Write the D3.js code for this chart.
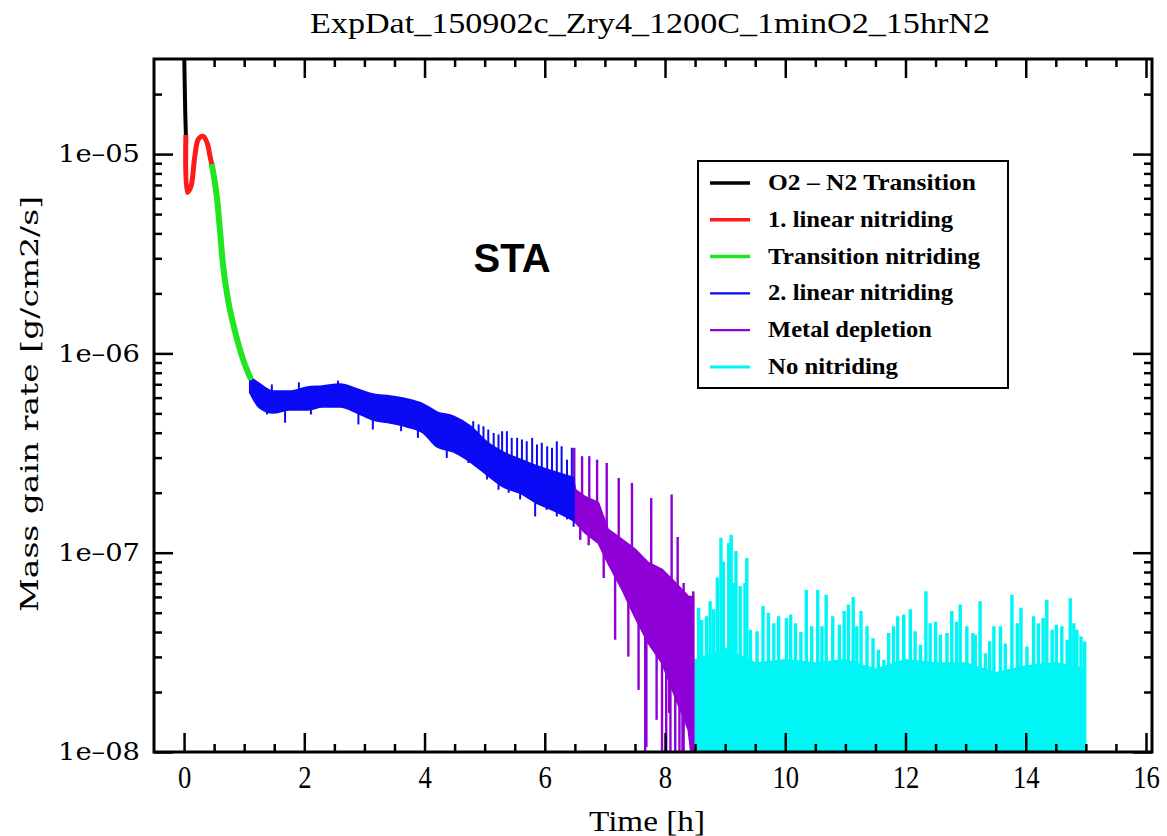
<!DOCTYPE html>
<html><head><meta charset="utf-8">
<script src="https://cdn.jsdelivr.net/npm/d3@7"></script>
<style>body{margin:0;background:#fff;} svg{display:block;}</style>
</head><body><svg id="chart" width="1167" height="836"></svg>
<script>
// ---------- text ----------
const titleText = "ExpDat_150902c_Zry4_1200C_1minO2_15hrN2";
const xLabelText = "Time [h]";
const yLabelText = "Mass gain rate [g/cm2/s]";
const annotationText = "STA";
const xTickValues = [0, 2, 4, 6, 8, 10, 12, 14, 16];
const xTickLabels = ["0", "2", "4", "6", "8", "10", "12", "14", "16"];
const yTickValues = [1e-8, 1e-7, 1e-6, 1e-5];
const yTickLabels = ["1e\u201308", "1e\u201307", "1e\u201306", "1e\u201305"];
const legendNames = ["O2 \u2013 N2 Transition", "1. linear nitriding", "Transition nitriding",
                     "2. linear nitriding", "Metal depletion", "No nitriding"];
const legendColors = ["#000000", "#ff1a1a", "#1fe61f", "#0a0af5", "#8e00d6", "#00f5f5"];

// ---------- data (time in h, mass gain rate in g/cm2/s) ----------
// O2 - N2 transition
const transT = [0.00, 0.01, 0.02, 0.03];
const transV = [3.6e-5, 2.3e-5, 1.6e-5, 1.246e-5];
// 1. linear nitriding
const lin1T = [0.03, 0.055, 0.10, 0.13, 0.18, 0.24, 0.32, 0.39, 0.43, 0.46];
const lin1V = [1.246e-5, 6.42e-6, 6.7e-6, 7.21e-6, 9.80e-6, 1.19e-5, 1.227e-5, 1.122e-5, 9.80e-6, 8.91e-6];
// Transition nitriding
const transNT = [0.46, 0.55, 0.60, 0.65, 0.73, 0.85, 0.98, 1.10];
const transNV = [8.91e-6, 5.94e-6, 4.06e-6, 2.74e-6, 1.87e-6, 1.28e-6, 9.33e-7, 7.57e-7];
// 2. linear nitriding (noisy band: upper / lower envelope, spikes, dips)
const lin2T  = [1.10, 1.26, 1.48, 1.76, 2.05, 2.30, 2.60, 2.88, 3.14, 3.43, 3.71, 3.98, 4.21, 4.48, 4.76, 5.04, 5.31, 5.59, 5.87, 6.14, 6.47];
const lin2Hi = [7.57e-7, 6.99e-7, 6.44e-7, 6.44e-7, 6.75e-7, 6.83e-7, 6.99e-7, 6.59e-7, 6.22e-7, 6.08e-7, 5.87e-7, 5.54e-7, 5.05e-7, 4.82e-7, 4.30e-7, 3.57e-7, 3.18e-7, 2.93e-7, 2.71e-7, 2.55e-7, 2.38e-7];
const lin2Lo = [6.37e-7, 5.35e-7, 5.05e-7, 5.23e-7, 5.23e-7, 5.42e-7, 5.42e-7, 5.05e-7, 4.66e-7, 4.50e-7, 4.30e-7, 4.01e-7, 3.41e-7, 3.22e-7, 2.87e-7, 2.47e-7, 2.15e-7, 2.00e-7, 1.78e-7, 1.64e-7, 1.46e-7];
const lin2SpikeT = [1.46, 1.91, 2.56, 4.81, 4.90, 4.98, 5.06, 5.15, 5.23, 5.29, 5.37, 5.45, 5.54, 5.62, 5.70, 5.79, 5.87, 5.95, 6.04, 6.12, 6.20, 6.28, 6.37, 6.45];
const lin2SpikeV = [6.99e-7, 7.16e-7, 7.3e-7, 4.57e-7, 4.40e-7, 4.31e-7, 4.15e-7, 3.99e-7, 3.92e-7, 4.07e-7, 4.07e-7, 3.77e-7, 3.77e-7, 3.70e-7, 3.62e-7, 3.77e-7, 3.49e-7, 3.56e-7, 3.42e-7, 3.36e-7, 3.62e-7, 3.42e-7, 2.93e-7, 3.36e-7];
const lin2DipT = [1.38, 1.68, 2.11, 2.90, 3.14, 3.61, 3.89, 4.37, 4.73, 5.04, 5.23, 5.40, 5.59, 5.84, 6.03, 6.20, 6.37, 6.48];
const lin2DipV = [4.94e-7, 4.49e-7, 4.94e-7, 4.40e-7, 4.15e-7, 4.07e-7, 3.77e-7, 2.99e-7, 2.82e-7, 2.33e-7, 2.07e-7, 2.0e-7, 1.85e-7, 1.52e-7, 1.64e-7, 1.52e-7, 1.47e-7, 1.35e-7];
// Metal depletion
const depT  = [6.47, 6.51, 6.67, 6.89, 7.05, 7.29, 7.50, 7.72, 7.95, 8.17, 8.39, 8.47];
const depHi = [2.38e-7, 2.07e-7, 1.91e-7, 1.78e-7, 1.31e-7, 1.16e-7, 1.04e-7, 8.91e-8, 8.22e-8, 7.07e-8, 6.01e-8, 6.01e-8];
const depLo = [1.46e-7, 1.42e-7, 1.26e-7, 1.12e-7, 8.91e-8, 6.52e-8, 4.77e-8, 3.53e-8, 2.80e-8, 1.89e-8, 1.29e-8, 8.0e-9];
const depSpikeT = [6.49, 6.62, 6.74, 6.87, 7.03, 7.23, 7.45, 7.77, 8.11, 8.21, 8.31, 8.47];
const depSpikeV = [3.36e-7, 3.05e-7, 3.05e-7, 2.93e-7, 2.82e-7, 2.37e-7, 2.24e-7, 1.88e-7, 1.96e-7, 1.2e-7, 7.05e-8, 6.4e-8];
const depDipT = [6.59, 6.73, 6.98, 7.17, 7.39, 7.56, 7.67, 7.69, 7.86, 7.95, 8.02, 8.07, 8.09, 8.17, 8.24, 8.29, 8.31];
const depDipV = [1.16e-7, 1.09e-7, 7.46e-8, 3.66e-8, 3.01e-8, 2.05e-8, 5e-9, 1.06e-8, 1.45e-8, 5e-9, 5e-9, 1.57e-8, 5e-9, 5e-9, 5e-9, 5e-9, 5e-9];
// No nitriding (solid base level plus individual spikes)
const noneT    = [8.50, 9.0, 9.5, 10.0, 10.5, 11.0, 11.5, 12.0, 12.5, 13.0, 13.5, 14.0, 14.5, 14.99];
const noneBase = [2.9e-8, 3.3e-8, 2.8e-8, 2.9e-8, 2.8e-8, 2.9e-8, 2.6e-8, 2.9e-8, 2.8e-8, 2.8e-8, 2.5e-8, 2.7e-8, 2.8e-8, 2.6e-8];
const noneSpikeT = [8.56, 8.61, 8.69, 8.75, 8.81, 8.87, 8.93, 8.97, 9.06, 9.10, 9.14, 9.18, 9.25, 9.33, 9.36, 9.42, 9.53, 9.63, 9.72, 9.81, 9.89, 10.02, 10.09, 10.17, 10.26, 10.35, 10.44, 10.54, 10.61, 10.68, 10.79, 10.90, 10.98, 11.05, 11.13, 11.19, 11.26, 11.36, 11.46, 11.55, 11.64, 11.72, 11.80, 11.87, 11.97, 12.08, 12.16, 12.25, 12.34, 12.41, 12.50, 12.58, 12.69, 12.77, 12.85, 12.91, 13.02, 13.12, 13.16, 13.24, 13.33, 13.40, 13.47, 13.58, 13.66, 13.77, 13.86, 13.92, 14.02, 14.13, 14.21, 14.29, 14.35, 14.44, 14.51, 14.60, 14.69, 14.74, 14.80, 14.85, 14.92, 14.98];
const noneSpikeV = [5.3e-8, 4.6e-8, 4.8e-8, 5.7e-8, 5.2e-8, 7.5e-8, 1.19e-7, 9.0e-8, 1.12e-7, 1.23e-7, 7.05e-8, 1.02e-7, 6.8e-8, 7.05e-8, 9.4e-8, 4.1e-8, 4.03e-8, 5.4e-8, 5.0e-8, 4.43e-8, 4.8e-8, 4.7e-8, 4.9e-8, 4.43e-8, 4.0e-8, 6.5e-8, 4.27e-8, 6.5e-8, 4.27e-8, 6.15e-8, 4.8e-8, 4.35e-8, 5.1e-8, 5.5e-8, 6.0e-8, 4.27e-8, 5.1e-8, 4.27e-8, 3.72e-8, 3.26e-8, 2.9e-8, 3.95e-8, 4.27e-8, 4.8e-8, 4.9e-8, 5.2e-8, 4.03e-8, 3.45e-8, 6.4e-8, 4.43e-8, 4.5e-8, 3.87e-8, 3.95e-8, 5.1e-8, 4.5e-8, 5.5e-8, 4.27e-8, 3.95e-8, 3.87e-8, 5.7e-8, 3.13e-8, 3.6e-8, 4.27e-8, 4.27e-8, 3.5e-8, 6.15e-8, 4.43e-8, 5.3e-8, 3.38e-8, 4.8e-8, 4.43e-8, 4.7e-8, 5.8e-8, 4.1e-8, 4.35e-8, 4.27e-8, 3.65e-8, 5.9e-8, 4.43e-8, 4.1e-8, 3.8e-8, 3.58e-8];

// ---------- setup ----------
const svg = d3.select("#chart");
const plot = {left: 154, right: 1152, top: 59, bottom: 752};
const x = d3.scaleLinear().domain([-0.5, 16.1]).range([plot.left, plot.right]);
const y = d3.scaleLog().domain([1e-8, 3e-5]).range([plot.bottom, plot.top]);
const floorV = 1e-9; // below the visible domain, clipped

svg.append("rect").attr("width", 1167).attr("height", 836).attr("fill", "#fff");

svg.append("defs").append("clipPath").attr("id", "clip")
  .append("rect").attr("x", plot.left).attr("y", plot.top)
  .attr("width", plot.right - plot.left).attr("height", plot.bottom - plot.top);

const zip = (a, b) => a.map((t, i) => [t, b[i]]);
function envAt(ts, vs, t) {
  if (t <= ts[0]) return vs[0];
  if (t >= ts[ts.length - 1]) return vs[vs.length - 1];
  const i = d3.bisectRight(ts, t);
  const f = (t - ts[i - 1]) / (ts[i] - ts[i - 1]);
  return Math.pow(10, Math.log10(vs[i - 1]) * (1 - f) + Math.log10(vs[i]) * f);
}

const g = svg.append("g").attr("clip-path", "url(#clip)");
const line = d3.line().x(d => x(d[0])).y(d => y(d[1]));
const band = d3.area().x(d => x(d.t)).y0(d => y(d.lo)).y1(d => y(d.hi));

// No nitriding (cyan)
const cyan = legendColors[5];
g.append("path").datum(noneT.map((t, i) => ({t, lo: floorV, hi: noneBase[i]})))
  .attr("d", band).attr("fill", cyan).attr("stroke", cyan).attr("stroke-width", 1.5);
g.append("g").selectAll("line").data(zip(noneSpikeT, noneSpikeV)).join("line")
  .attr("x1", d => x(d[0])).attr("x2", d => x(d[0]))
  .attr("y1", d => y(d[1])).attr("y2", y(floorV))
  .attr("stroke", cyan).attr("stroke-width", 3.4);

// Metal depletion (purple)
const purple = legendColors[4];
g.append("path").datum(depT.map((t, i) => ({t, lo: depLo[i], hi: depHi[i]})))
  .attr("d", band).attr("fill", purple).attr("stroke", purple).attr("stroke-width", 2);
g.append("g").selectAll("line").data(zip(depSpikeT, depSpikeV)).join("line")
  .attr("x1", d => x(d[0])).attr("x2", d => x(d[0]))
  .attr("y1", d => y(d[1])).attr("y2", d => y(envAt(depT, depLo, d[0])))
  .attr("stroke", purple).attr("stroke-width", 2.4);
g.append("g").selectAll("line").data(zip(depDipT, depDipV)).join("line")
  .attr("x1", d => x(d[0])).attr("x2", d => x(d[0]))
  .attr("y1", d => y(d[1])).attr("y2", d => y(envAt(depT, depHi, d[0])))
  .attr("stroke", purple).attr("stroke-width", 2.4);

// 2. linear nitriding (blue)
const blue = legendColors[3];
g.append("path").datum(lin2T.map((t, i) => ({t, lo: lin2Lo[i], hi: lin2Hi[i]})))
  .attr("d", band.curve(d3.curveMonotoneX)).attr("fill", blue).attr("stroke", blue).attr("stroke-width", 2.5);
g.append("g").selectAll("line").data(zip(lin2SpikeT, lin2SpikeV)).join("line")
  .attr("x1", d => x(d[0])).attr("x2", d => x(d[0]))
  .attr("y1", d => y(d[1])).attr("y2", d => y(envAt(lin2T, lin2Lo, d[0])))
  .attr("stroke", blue).attr("stroke-width", 2);
g.append("g").selectAll("line").data(zip(lin2DipT, lin2DipV)).join("line")
  .attr("x1", d => x(d[0])).attr("x2", d => x(d[0]))
  .attr("y1", d => y(d[1])).attr("y2", d => y(envAt(lin2T, lin2Hi, d[0])))
  .attr("stroke", blue).attr("stroke-width", 2);

// Transition nitriding (green)
g.append("path").datum(zip(transNT, transNV))
  .attr("d", line.curve(d3.curveMonotoneX)).attr("fill", "none")
  .attr("stroke", legendColors[2]).attr("stroke-width", 6).attr("stroke-linecap", "round");
// 1. linear nitriding (red)
g.append("path").datum(zip(lin1T, lin1V))
  .attr("d", d3.line().x(d => x(d[0])).y(d => y(d[1])).curve(d3.curveCatmullRom)).attr("fill", "none")
  .attr("stroke", legendColors[1]).attr("stroke-width", 5).attr("stroke-linejoin", "round");
// O2 - N2 transition (black)
g.append("path").datum(zip(transT, transV))
  .attr("d", d3.line().x(d => x(d[0])).y(d => y(d[1]))).attr("fill", "none")
  .attr("stroke", legendColors[0]).attr("stroke-width", 4);

// ---------- axes ----------
const axisFont = "'DejaVu Serif', serif";
const xMinor = d3.range(0, 16.01, 0.5).filter(v => v % 2 !== 0);
const yMinor = [];
[-8, -7, -6, -5].forEach(e => { for (let k = 2; k <= 9; k++) { const v = k * Math.pow(10, e); if (v <= 3e-5) yMinor.push(v); } });

function styleAxis(sel) {
  sel.select(".domain").remove();
  sel.selectAll(".tick line").attr("stroke", "#000").attr("stroke-width", 2.5);
}
// bottom
svg.append("g").attr("transform", `translate(0,${plot.bottom})`)
  .call(d3.axisBottom(x).tickValues(xTickValues).tickSize(-19).tickPadding(14)
    .tickFormat((d, i) => xTickLabels[i]))
  .call(styleAxis)
  .call(s => s.selectAll("text").attr("font-family", "'Liberation Serif', serif")
    .attr("font-size", 29).attr("fill", "#000").attr("transform", "scale(0.92,1.12)")
    .attr("dy", "0.62em"));
svg.append("g").attr("transform", `translate(0,${plot.bottom})`)
  .call(d3.axisBottom(x).tickValues(xMinor).tickSize(-8).tickFormat(""))
  .call(styleAxis);
// top
svg.append("g").attr("transform", `translate(0,${plot.top})`)
  .call(d3.axisTop(x).tickValues(xTickValues).tickSize(-19).tickFormat(""))
  .call(styleAxis);
svg.append("g").attr("transform", `translate(0,${plot.top})`)
  .call(d3.axisTop(x).tickValues(xMinor).tickSize(-8).tickFormat(""))
  .call(styleAxis);
// left
svg.append("g").attr("transform", `translate(${plot.left},0)`)
  .call(d3.axisLeft(y).tickValues(yTickValues).tickSize(-19).tickPadding(14)
    .tickFormat((d, i) => yTickLabels[i]))
  .call(styleAxis)
  .call(s => s.selectAll("text").attr("font-family", axisFont)
    .attr("font-size", 24).attr("fill", "#000").attr("textLength", 82)
    .attr("lengthAdjust", "spacingAndGlyphs"));
svg.append("g").attr("transform", `translate(${plot.left},0)`)
  .call(d3.axisLeft(y).tickValues(yMinor).tickSize(-8).tickFormat(""))
  .call(styleAxis);
// right
svg.append("g").attr("transform", `translate(${plot.right},0)`)
  .call(d3.axisRight(y).tickValues(yTickValues).tickSize(-19).tickFormat(""))
  .call(styleAxis);
svg.append("g").attr("transform", `translate(${plot.right},0)`)
  .call(d3.axisRight(y).tickValues(yMinor).tickSize(-8).tickFormat(""))
  .call(styleAxis);

// frame
svg.append("rect").attr("x", plot.left).attr("y", plot.top)
  .attr("width", plot.right - plot.left).attr("height", plot.bottom - plot.top)
  .attr("fill", "none").attr("stroke", "#000").attr("stroke-width", 3);

// ---------- titles ----------
svg.append("text").attr("x", 650).attr("y", 33).attr("text-anchor", "middle")
  .attr("font-family", "'Liberation Serif', serif").attr("font-size", 30)
  .attr("textLength", 680).attr("lengthAdjust", "spacingAndGlyphs")
  .text(titleText);
svg.append("text").attr("x", 647).attr("y", 831).attr("text-anchor", "middle")
  .attr("font-family", "'Liberation Serif', serif").attr("font-size", 30)
  .attr("textLength", 116).attr("lengthAdjust", "spacingAndGlyphs")
  .text(xLabelText);
svg.append("text").attr("transform", "translate(38,404) rotate(-90)").attr("text-anchor", "middle")
  .attr("font-family", "'DejaVu Serif', serif").attr("font-size", 24)
  .attr("textLength", 416).attr("lengthAdjust", "spacingAndGlyphs")
  .text(yLabelText);
svg.append("text").attr("x", 512).attr("y", 272).attr("text-anchor", "middle")
  .attr("font-family", "'Liberation Sans', Arial, sans-serif").attr("font-weight", "bold")
  .attr("font-size", 40).text(annotationText);

// ---------- legend ----------
const lg = svg.append("g");
lg.append("rect").attr("x", 698).attr("y", 161).attr("width", 310).attr("height", 227)
  .attr("fill", "#fff").attr("stroke", "#000").attr("stroke-width", 2);
const legendWidths = [208, 185, 212, 185, 164, 130];
const legendStroke = [3.5, 3.5, 3.5, 2.2, 2.2, 3];
legendNames.forEach((name, i) => {
  const cy = 183 + i * 36.8;
  lg.append("line").attr("x1", 710).attr("x2", 750).attr("y1", cy).attr("y2", cy)
    .attr("stroke", legendColors[i]).attr("stroke-width", legendStroke[i]);
  lg.append("text").attr("x", 768).attr("y", cy + 7)
    .attr("font-family", "'Liberation Serif', serif").attr("font-weight", "bold")
    .attr("font-size", 23).attr("textLength", legendWidths[i]).attr("lengthAdjust", "spacingAndGlyphs")
    .text(name);
});
</script></body></html>
